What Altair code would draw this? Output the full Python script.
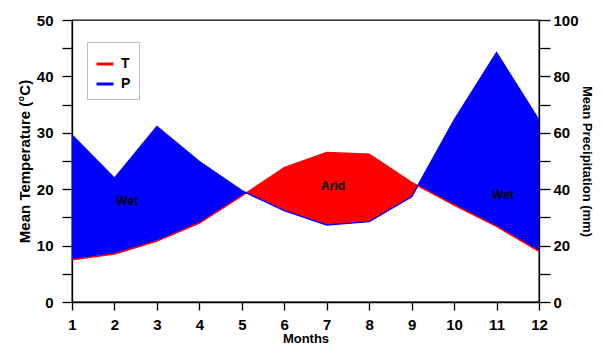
import altair as alt
import pandas as pd

# ---- data ----
months = list(range(1, 13))
temperature = [7.5, 8.5, 10.8, 14.0, 18.8, 23.8, 26.5, 26.2, 21.2, 17.2, 13.4, 9.0]
precipitation = [59.2, 43.9, 62.2, 49.8, 39.5, 32.4, 27.3, 28.5, 37.3, 64.5, 88.4, 64.5]
series_names = ["T", "P"]
series_colors = ["#ff0000", "#0000ff"]
label_text = ["Wet", "Arid", "Wet"]
label_month = [2.3, 7.15, 11.15]
label_temp = [17.9, 20.6, 19.0]
temp_ticks = [0, 5, 10, 15, 20, 25, 30, 35, 40, 45, 50]
precip_ticks = [0, 10, 20, 30, 40, 50, 60, 70, 80, 90, 100]

FONT = "Liberation Sans"

# precipitation expressed on the temperature axis (P = 2T convention)
p_half = [p / 2 for p in precipitation]

# ---- fill segments between the two curves, split where they cross ----
recs = []
seg = 0
wet = p_half[0] > temperature[0]


def add(x, t, p, s, w):
    recs.append({"month": x, "T": t, "P2": p, "seg": s, "kind": "Wet" if w else "Arid"})


add(months[0], temperature[0], p_half[0], seg, wet)
for i in range(len(months) - 1):
    d0 = p_half[i] - temperature[i]
    d1 = p_half[i + 1] - temperature[i + 1]
    if d0 * d1 < 0:
        f = d0 / (d0 - d1)
        xc = months[i] + f * (months[i + 1] - months[i])
        tc = temperature[i] + f * (temperature[i + 1] - temperature[i])
        add(xc, tc, tc, seg, wet)
        seg += 1
        wet = not wet
        add(xc, tc, tc, seg, wet)
    add(months[i + 1], temperature[i + 1], p_half[i + 1], seg, wet)
fill_df = pd.DataFrame(recs)

line_df = pd.DataFrame(
    {"month": months + months,
     "value": temperature + p_half,
     "series": ["T"] * len(months) + ["P"] * len(months)}
)
label_df = pd.DataFrame({"month": label_month, "temp": label_temp, "text": label_text})
precip_df = pd.DataFrame({"month": months, "precip": precipitation})

# ---- scales / axes ----
x_enc = alt.X(
    "month:Q",
    scale=alt.Scale(domain=[1, 12], nice=False, zero=False),
    axis=alt.Axis(values=months, title="Months", tickSize=8, labelPadding=7,
                  titlePadding=0, titleFontSize=13, labelFlush=False,
                  labelOverlap=False, format="d"),
)
temp_scale = alt.Scale(domain=[0, 50], nice=False)
temp_axis = alt.Axis(
    values=temp_ticks, title="Mean Temperature (°C)", tickSize=10, labelPadding=9,
    titlePadding=4, labelOverlap=False, labelFlush=False,
    labelExpr="datum.value % 10 == 0 ? datum.label : ''",
)
precip_axis = alt.Axis(
    orient="right", values=precip_ticks, title="Mean Precipitation (mm)", tickSize=11,
    labelPadding=3, titlePadding=1, titleFontSize=13, labelOverlap=False,
    labelFlush=False, labelExpr="datum.value % 20 == 0 ? datum.label : ''",
)

base_fill = alt.Chart(fill_df)
wet_area = base_fill.transform_filter(alt.datum.kind == "Wet").mark_area(
    color=series_colors[1], opacity=1, interpolate="linear"
).encode(
    x=x_enc,
    y=alt.Y("T:Q", stack=None, scale=temp_scale, axis=temp_axis),
    y2="P2:Q",
    detail="seg:N",
)
arid_area = base_fill.transform_filter(alt.datum.kind == "Arid").mark_area(
    color=series_colors[0], opacity=1, interpolate="linear"
).encode(
    x=x_enc,
    y=alt.Y("T:Q", stack=None, scale=temp_scale, axis=temp_axis),
    y2="P2:Q",
    detail="seg:N",
)

lines = alt.Chart(line_df).mark_line(strokeWidth=1.5).encode(
    x=x_enc,
    y=alt.Y("value:Q", scale=temp_scale, axis=temp_axis),
    color=alt.Color(
        "series:N",
        scale=alt.Scale(domain=series_names, range=series_colors),
        sort=series_names,
        legend=alt.Legend(
            orient="none", legendX=15, legendY=22, title=" ", titleFontSize=4,
            titlePadding=0, symbolType="stroke", symbolSize=289, symbolStrokeWidth=3,
            labelFont=FONT, labelFontSize=14, labelFontWeight="bold", labelColor="black",
            labelOffset=6, padding=8, rowPadding=3, strokeColor="#bbbbbb",
            fillColor="white", cornerRadius=0,
        ),
    ),
    detail="series:N",
)

texts = alt.Chart(label_df).mark_text(
    font=FONT, fontSize=12, fontWeight="bold", color="black"
).encode(
    x=x_enc,
    y=alt.Y("temp:Q", scale=temp_scale, axis=temp_axis),
    text="text:N",
)

left = alt.layer(wet_area, arid_area, lines, texts)

right = alt.Chart(precip_df).mark_line(strokeOpacity=0).encode(
    x=x_enc,
    y=alt.Y("precip:Q", scale=alt.Scale(domain=[0, 100], nice=False), axis=precip_axis),
)

chart = (
    alt.layer(left, right)
    .resolve_scale(y="independent")
    .properties(
        width=467, height=282,
        autosize=alt.AutoSizeParams(type="none"),
        padding={"left": 64, "top": 12, "right": 56, "bottom": 44},
        background="white",
    )
    .configure_axis(
        labelFont=FONT, labelFontSize=15, labelFontWeight="bold", labelColor="black",
        titleFont=FONT, titleFontSize=15, titleFontWeight="bold", titleColor="black",
        domainColor="black", tickColor="black", domainWidth=1.3, tickWidth=1.3, grid=False,
    )
    .configure_view(stroke="black", strokeWidth=1.3)
)

chart.save("out.html", embed_options={"renderer": "svg", "actions": False})
